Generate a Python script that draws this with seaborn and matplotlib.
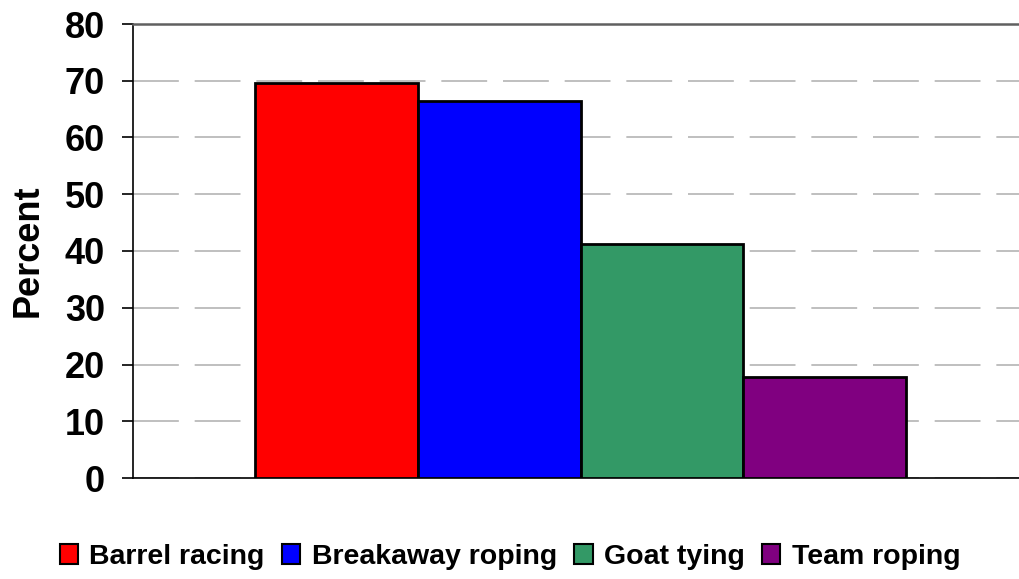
import pandas as pd
import seaborn as sns
import matplotlib.pyplot as plt

# data
events = ['Barrel racing', 'Breakaway roping', 'Goat tying', 'Team roping']
percent = [69.6, 66.4, 41.2, 17.8]
colors = ['#ff0000', '#0000ff', '#339966', '#800080']

df = pd.DataFrame({'group': [''] * len(events), 'event': events, 'Percent': percent})

sns.set_style('white')
plt.rcParams['font.family'] = ['Liberation Sans', 'DejaVu Sans']
plt.rcParams['text.color'] = 'black'
plt.rcParams['axes.labelcolor'] = 'black'
plt.rcParams['ytick.color'] = 'black'

fig = plt.figure(figsize=(10.2, 5.79), dpi=100)
ax = fig.add_axes([133 / 1020, 1 - 478 / 579, 1 - 133 / 1020, (478 - 24) / 579])

sns.barplot(data=df, x='group', y='Percent', hue='event', hue_order=events,
            palette=dict(zip(events, colors)), width=0.8, saturation=1,
            edgecolor='black', linewidth=2, ax=ax, legend=False, zorder=3)

ax.set_xlim(-0.55, 0.54)
ax.set_ylim(0, 80)
ax.set_yticks(range(0, 81, 10))
ax.set_xticks([])
ax.set_xlabel('')
ax.set_ylabel('Percent', fontsize=26, fontweight='bold', labelpad=14)
ax.tick_params(axis='y', direction='out', length=8, width=1.2, color='black',
               left=True, labelsize=26, pad=12, labelcolor='black')
for lbl in ax.get_yticklabels():
    lbl.set_fontweight('bold')

# long dashed grey gridlines
ax.yaxis.grid(True, linestyle=(0, (27.5, 9.5)), color='#b4b4b4', linewidth=1.2)
ax.set_axisbelow(True)

ax.spines['right'].set_visible(False)
ax.spines['top'].set_color('#606060')
ax.spines['top'].set_linewidth(1.8)
for side in ['left', 'bottom']:
    ax.spines[side].set_color('black')
    ax.spines[side].set_linewidth(1.2)

handles = [plt.Rectangle((0, 0), 1, 1, facecolor=c, edgecolor='black', linewidth=1.5) for c in colors]
fig.legend(handles, events, loc='center', bbox_to_anchor=(0.5, 1 - 557 / 579), ncol=4,
           frameon=False, prop={'size': 20.5, 'weight': 'bold'},
           handlelength=0.65, handleheight=0.65, handletextpad=0.4, columnspacing=0.6)

fig.savefig('out.png', dpi=100)
